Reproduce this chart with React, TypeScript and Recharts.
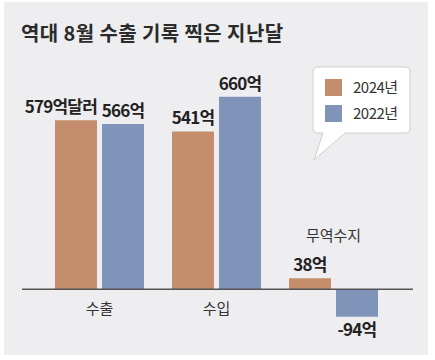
import React from 'react';
import { BarChart, Bar, XAxis, YAxis, ReferenceLine, LabelList, Legend } from 'recharts';

const categories = ['수출', '수입', '무역수지'];
const values2024 = [579, 541, 38];
const values2022 = [566, 660, -94];
const seriesNames = ['2024년', '2022년'];
const title = '역대 8월 수출 기록 찍은 지난달';

const COLOR_2024 = '#c48d6b';
const COLOR_2022 = '#8094b9';
const FONT = '"Noto Sans CJK KR", "Noto Sans", sans-serif';

const data = categories.map((c, i) => ({ name: c, y2024: values2024[i], y2022: values2022[i] }));

function CatTick(props: any) {
  const { x, y, payload, index } = props;
  const dy = index === 2 ? -92 : -19;
  return (
    <text x={x} y={y + dy} textAnchor="middle" fontFamily={FONT} fontSize={15} fill="#333">
      {payload.value}
    </text>
  );
}

function makeValueLabel(series: string) {
  return function ValueLabel(props: any) {
    const { x, y, width, height, value, index } = props;
    const neg = value < 0;
    const top = Math.min(y, y + height);
    const bottom = Math.max(y, y + height);
    const ty = neg ? bottom + 19 : top - 7;
    const first = series === '2024' && index === 0;
    const text = first ? `${value}억달러` : `${value}억`;
    return (
      <text
        x={first ? x + width : x + width / 2}
        y={ty}
        textAnchor={first ? 'end' : 'middle'}
        fontFamily={FONT}
        fontSize={17}
        fontWeight={700}
        letterSpacing={-0.8}
        fill="#222"
      >
        {text}
      </text>
    );
  };
}

function BubbleLegend(props: any) {
  const payload = [...(props.payload || [])].sort(
    (a: any, b: any) => seriesNames.indexOf(a.value) - seriesNames.indexOf(b.value)
  );
  return (
    <svg width={110} height={102} style={{ overflow: 'visible', display: 'block' }}>
      <path
        d="M10 5 H97 Q102 5 102 10 V66 Q102 71 97 71 H37 L6 98 L15 71 H10 Q5 71 5 66 V10 Q5 5 10 5 Z"
        fill="#ffffff"
        stroke="#cfcfd3"
        strokeWidth={1}
      />
      {payload.map((p: any, i: number) => (
        <g key={i}>
          <rect x={17} y={17 + i * 26} width={17} height={17} fill={p.color} />
          <text x={45} y={31 + i * 26} fontFamily={FONT} fontSize={15} letterSpacing={-0.5} fill="#333">
            {p.value}
          </text>
        </g>
      ))}
    </svg>
  );
}

export default function App() {
  return (
    <div style={{ position: 'absolute', left: 0, top: 0, width: 435, height: 360, background: '#ffffff' }}>
      <div
        style={{
          position: 'absolute',
          left: 4,
          top: 2,
          width: 424,
          height: 353,
          background: '#eeeef0',
        }}
      />
      <div
        style={{
          position: 'absolute',
          left: 21,
          top: 20,
          fontFamily: FONT,
          fontSize: 20,
          fontWeight: 700,
          letterSpacing: 0.4,
          color: '#2b2b2b',
          lineHeight: '26px',
          whiteSpace: 'nowrap',
        }}
      >
        {title}
      </div>
      <div style={{ position: 'absolute', left: 0, top: 0 }}>
        <BarChart
          width={435}
          height={360}
          data={data}
          margin={{ top: 85, right: 22, bottom: 7, left: 22 }}
          barSize={42}
          barGap={5}
        >
          <YAxis hide domain={[-150, 700]} />
          <XAxis
            dataKey="name"
            axisLine={false}
            tickLine={false}
            tickSize={0}
            tickMargin={0}
            height={20}
            interval={0}
            padding={{ left: 19, right: 21 }}
            tick={<CatTick />}
          />
          <ReferenceLine y={0} stroke="#555" strokeWidth={1.5} />
          <Legend
            layout="vertical"
            align="center"
            verticalAlign="middle"
            content={<BubbleLegend />}
            wrapperStyle={{ position: 'absolute', left: 308, top: 62, width: 110, height: 102 }}
          />
          <Bar dataKey="y2024" name={seriesNames[0]} fill={COLOR_2024} isAnimationActive={false}>
            <LabelList dataKey="y2024" content={makeValueLabel('2024')} />
          </Bar>
          <Bar dataKey="y2022" name={seriesNames[1]} fill={COLOR_2022} isAnimationActive={false}>
            <LabelList dataKey="y2022" content={makeValueLabel('2022')} />
          </Bar>
        </BarChart>
      </div>
    </div>
  );
}
